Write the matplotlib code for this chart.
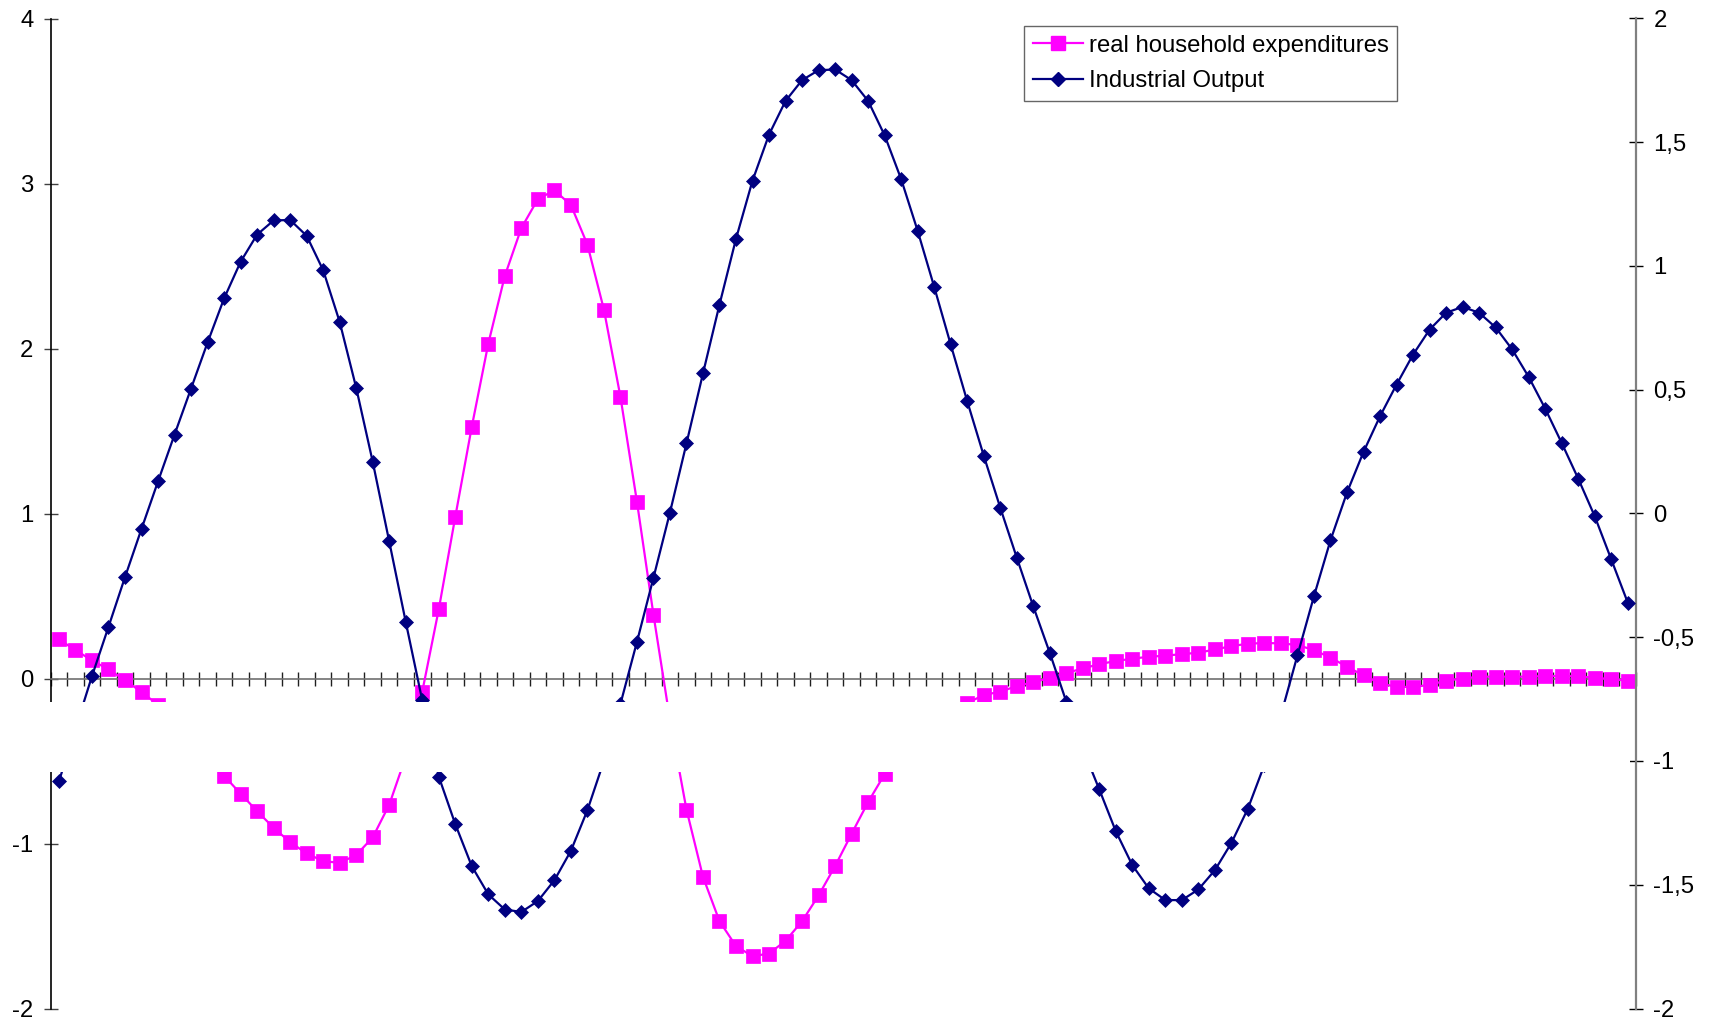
import numpy as np
import matplotlib
matplotlib.use("Agg")
import matplotlib.pyplot as plt
from matplotlib.patches import Rectangle
from matplotlib.ticker import FixedLocator, FixedFormatter
from matplotlib.lines import Line2D

plt.rcParams['font.family'] = ['Liberation Sans', 'DejaVu Sans']

# ---------------- data ----------------
periods = list(range(1, 97))

household = [
    0.237, 0.172, 0.110, 0.055, -0.010, -0.082, -0.160, -0.260, -0.370, -0.480,
    -0.590, -0.698, -0.804, -0.905, -0.992, -1.060, -1.107, -1.117, -1.070, -0.963,
    -0.765, -0.475, -0.080, 0.419, 0.980, 1.526, 2.030, 2.440, 2.730, 2.905,
    2.959, 2.870, 2.630, 2.236, 1.708, 1.072, 0.387, -0.250, -0.794, -1.202,
    -1.471, -1.622, -1.683, -1.667, -1.590, -1.471, -1.315, -1.137, -0.941, -0.749,
    -0.580, -0.450, -0.350, -0.270, -0.200, -0.149, -0.100, -0.080, -0.046, -0.022,
    0.003, 0.033, 0.061, 0.087, 0.106, 0.120, 0.132, 0.138, 0.148, 0.156,
    0.176, 0.196, 0.211, 0.215, 0.213, 0.203, 0.172, 0.127, 0.071, 0.019,
    -0.030, -0.050, -0.052, -0.038, -0.013, 0.000, 0.011, 0.011, 0.011, 0.011,
    0.015, 0.015, 0.013, 0.005, -0.004, -0.013,
]

industrial = [
    -1.082, -0.870, -0.657, -0.458, -0.257, -0.062, 0.130, 0.319, 0.505, 0.691,
    0.869, 1.017, 1.127, 1.184, 1.186, 1.122, 0.983, 0.774, 0.508, 0.209,
    -0.113, -0.438, -0.755, -1.063, -1.255, -1.425, -1.539, -1.600, -1.610, -1.566,
    -1.482, -1.363, -1.199, -1.000, -0.770, -0.519, -0.260, 0.004, 0.283, 0.566,
    0.844, 1.110, 1.345, 1.531, 1.667, 1.751, 1.791, 1.794, 1.751, 1.667,
    1.528, 1.351, 1.142, 0.916, 0.683, 0.454, 0.234, 0.024, -0.178, -0.375,
    -0.563, -0.760, -0.950, -1.115, -1.284, -1.421, -1.515, -1.562, -1.562, -1.519,
    -1.441, -1.331, -1.192, -1.015, -0.814, -0.573, -0.334, -0.108, 0.085, 0.249,
    0.393, 0.521, 0.642, 0.743, 0.811, 0.835, 0.811, 0.752, 0.663, 0.552,
    0.424, 0.285, 0.141, -0.011, -0.185, -0.360,
]

left_ticks = [-2, -1, 0, 1, 2, 3, 4]
left_labels = ['-2', '-1', '0', '1', '2', '3', '4']
right_ticks = [-2, -1.5, -1, -0.5, 0, 0.5, 1, 1.5, 2]
right_labels = ['-2', '-1,5', '-1', '-0,5', '0', '0,5', '1', '1,5', '2']

series_names = ['real household expenditures', 'Industrial Output']

# ---------------- figure ----------------
W, H = 1710, 1029
fig = plt.figure(figsize=(W / 100, H / 100), dpi=100)
fig.patch.set_facecolor('white')

x0, x1 = 50.7, 1636.0
ytop, ybot = 18.5, 1008.5
ax = fig.add_axes([x0 / W, 1 - ybot / H, (x1 - x0) / W, (ybot - ytop) / H])
ax2 = ax.twinx()

n = len(periods)
xpos = np.arange(n) + 0.5

MAG = '#FF00FF'
NAVY = '#000080'
FS = 17.2
SQ_MS = 9.6
DI_MS = 7.0

ax.plot(xpos, household, color=MAG, lw=1.6, marker='s', ms=SQ_MS,
        mfc=MAG, mec=MAG, mew=0.5, zorder=3)
ax2.plot(xpos, industrial, color=NAVY, lw=1.6, marker='D', ms=DI_MS,
         mfc=NAVY, mec=NAVY, mew=0.5, zorder=3)

ax.set_xlim(0, n)
ax.set_ylim(-2, 4)
ax2.set_ylim(-2, 2)

# category axis crossing at 0
ax.spines['bottom'].set_position(('data', 0))
ax.spines['bottom'].set_color('#707070')
ax.spines['bottom'].set_linewidth(1.2)
ax.spines['top'].set_visible(False)
ax.spines['right'].set_visible(False)
ax.spines['left'].set_color('black')
ax.spines['left'].set_linewidth(1.2)
ax.set_xticks(np.arange(0, n + 1))
ax.tick_params(axis='x', direction='inout', length=10, width=1.0,
               color='#202020', labelbottom=False)

ax.yaxis.set_major_locator(FixedLocator(left_ticks))
ax.yaxis.set_major_formatter(FixedFormatter(left_labels))
ax.tick_params(axis='y', direction='inout', length=10, width=1.0,
               color='#404040', labelsize=FS, pad=7.5)

for s in ['top', 'bottom', 'left']:
    ax2.spines[s].set_visible(False)
ax2.spines['right'].set_color('#808080')
ax2.spines['right'].set_linewidth(1.6)
ax2.yaxis.set_major_locator(FixedLocator(right_ticks))
ax2.yaxis.set_major_formatter(FixedFormatter(right_labels))
ax2.tick_params(axis='y', direction='inout', length=10, width=1.0,
                color='black', labelsize=FS, pad=7.5)

# white band hiding part of the plot (as in the original)
band_top, band_bot = 701.7, 771.7
fig.patches.append(Rectangle((0, 1 - band_bot / H), 1630 / W, (band_bot - band_top) / H,
                             transform=fig.transFigure, facecolor='white',
                             edgecolor='none', zorder=20))

# legend
handles = [
    Line2D([], [], color=MAG, lw=1.6, marker='s', ms=SQ_MS, mfc=MAG, mec=MAG),
    Line2D([], [], color=NAVY, lw=1.6, marker='D', ms=DI_MS, mfc=NAVY, mec=NAVY),
]
leg = fig.legend(handles, series_names, loc='upper left',
                 bbox_to_anchor=(1024 / W, 1 - 26 / H), bbox_transform=fig.transFigure,
                 borderaxespad=0, frameon=True, fancybox=False, shadow=False,
                 fontsize=FS, handlelength=2.1, handletextpad=0.25,
                 borderpad=0.36, labelspacing=0.58, numpoints=1)
leg.get_frame().set_edgecolor('#404040')
leg.get_frame().set_linewidth(1.0)
leg.set_zorder(30)

fig.savefig('out.png', dpi=100, facecolor='white')
